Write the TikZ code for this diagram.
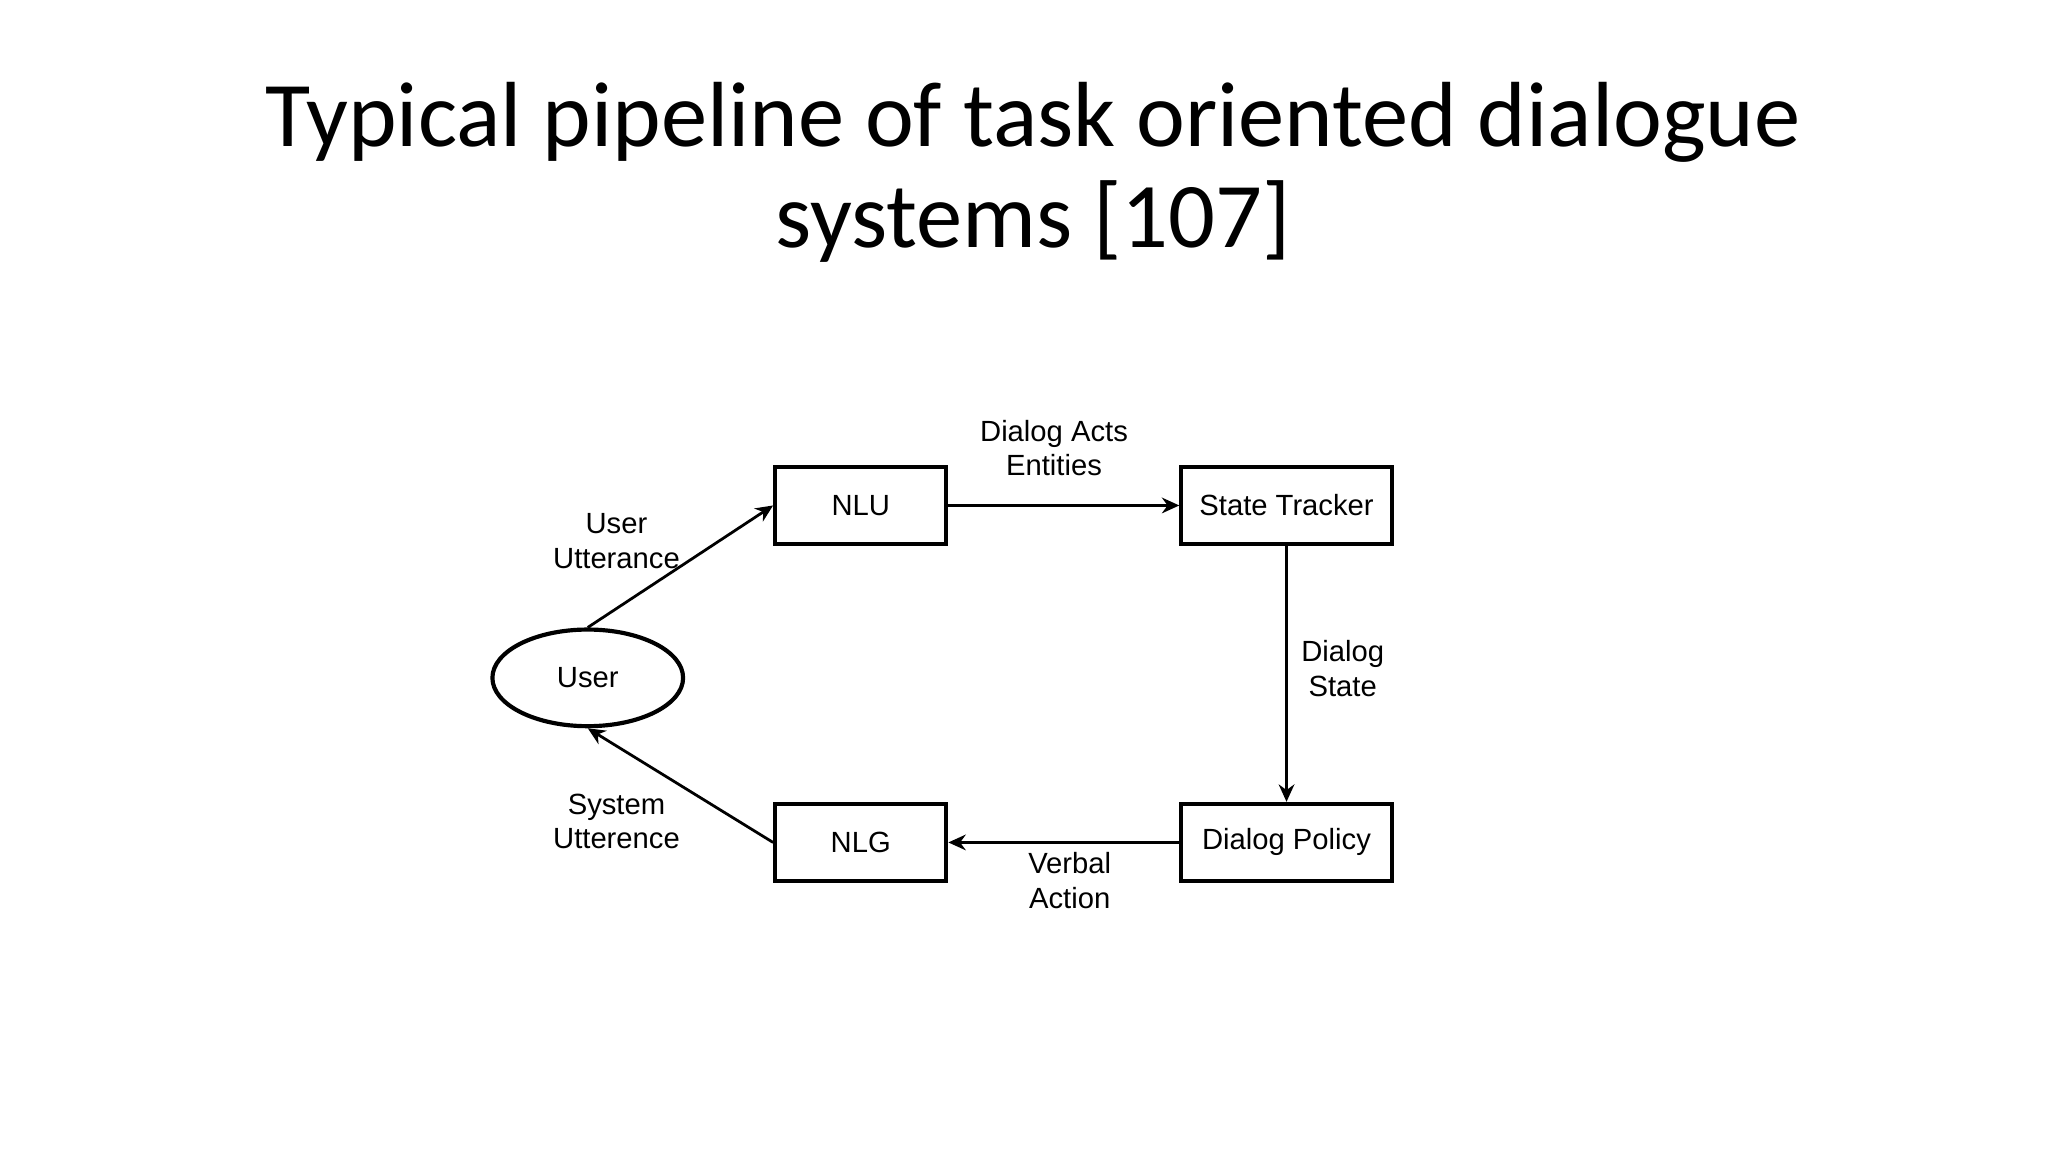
\documentclass[tikz,border=0pt]{standalone}
\usepackage{fontspec}
\setmainfont{Liberation Sans}
\newfontfamily\titlefont{Carlito}
\usetikzlibrary{shapes.geometric,arrows.meta}
\begin{document}
\begin{tikzpicture}[x=0.013196cm,y=-0.013196cm,
  box/.style={draw,line width=1.2pt,minimum width=131*0.013196cm,minimum height=59*0.013196cm,inner sep=0pt,font=\fontsize{8.4pt}{10pt}\selectfont},
  lab/.style={align=center,font=\fontsize{8.4pt}{10pt}\selectfont},
  arr/.style={-{Stealth[length=5pt,width=4.5pt]},line width=0.8pt}]
\useasboundingbox (0,0) rectangle (1568,882);
\node[font=\titlefont\fontsize{26.6pt}{29pt}\selectfont,align=center] (title) at (791,132) {Typical pipeline of task oriented dialogue\\systems [107]};
\node[box] (nlu) at (659,387) {NLU};
\node[box,minimum width=161*0.013196cm] (st) at (985,387) {State Tracker};
\node[box,minimum width=161*0.013196cm] (dp) at (985,645) {Dialog Policy};
\node[box] (nlg) at (659,645) {NLG};
\node[draw,ellipse,line width=1.2pt,minimum width=146*0.013196cm,minimum height=74*0.013196cm,inner sep=0pt,font=\fontsize{8.4pt}{10pt}\selectfont] (user) at (450,519) {User};
\draw[arr] (user.north) -- (nlu.west);
\draw[arr] (nlu.east) -- (st.west);
\draw[arr] (st.south) -- (dp.north);
\draw[arr] (dp.west) -- (nlg.west -| nlg.east);
\draw[arr] (nlg.west) -- (user.south);
\node[lab] (l1) at (807,343) {Dialog Acts\\Entities};
\node[lab] (l2) at (472,414) {User\\Utterance};
\node[lab] (l3) at (1028,512) {Dialog\\State};
\node[lab] (l4) at (472,629) {System\\Utterence};
\node[lab] (l5) at (819,674) {Verbal\\Action};
\end{tikzpicture}
\end{document}
